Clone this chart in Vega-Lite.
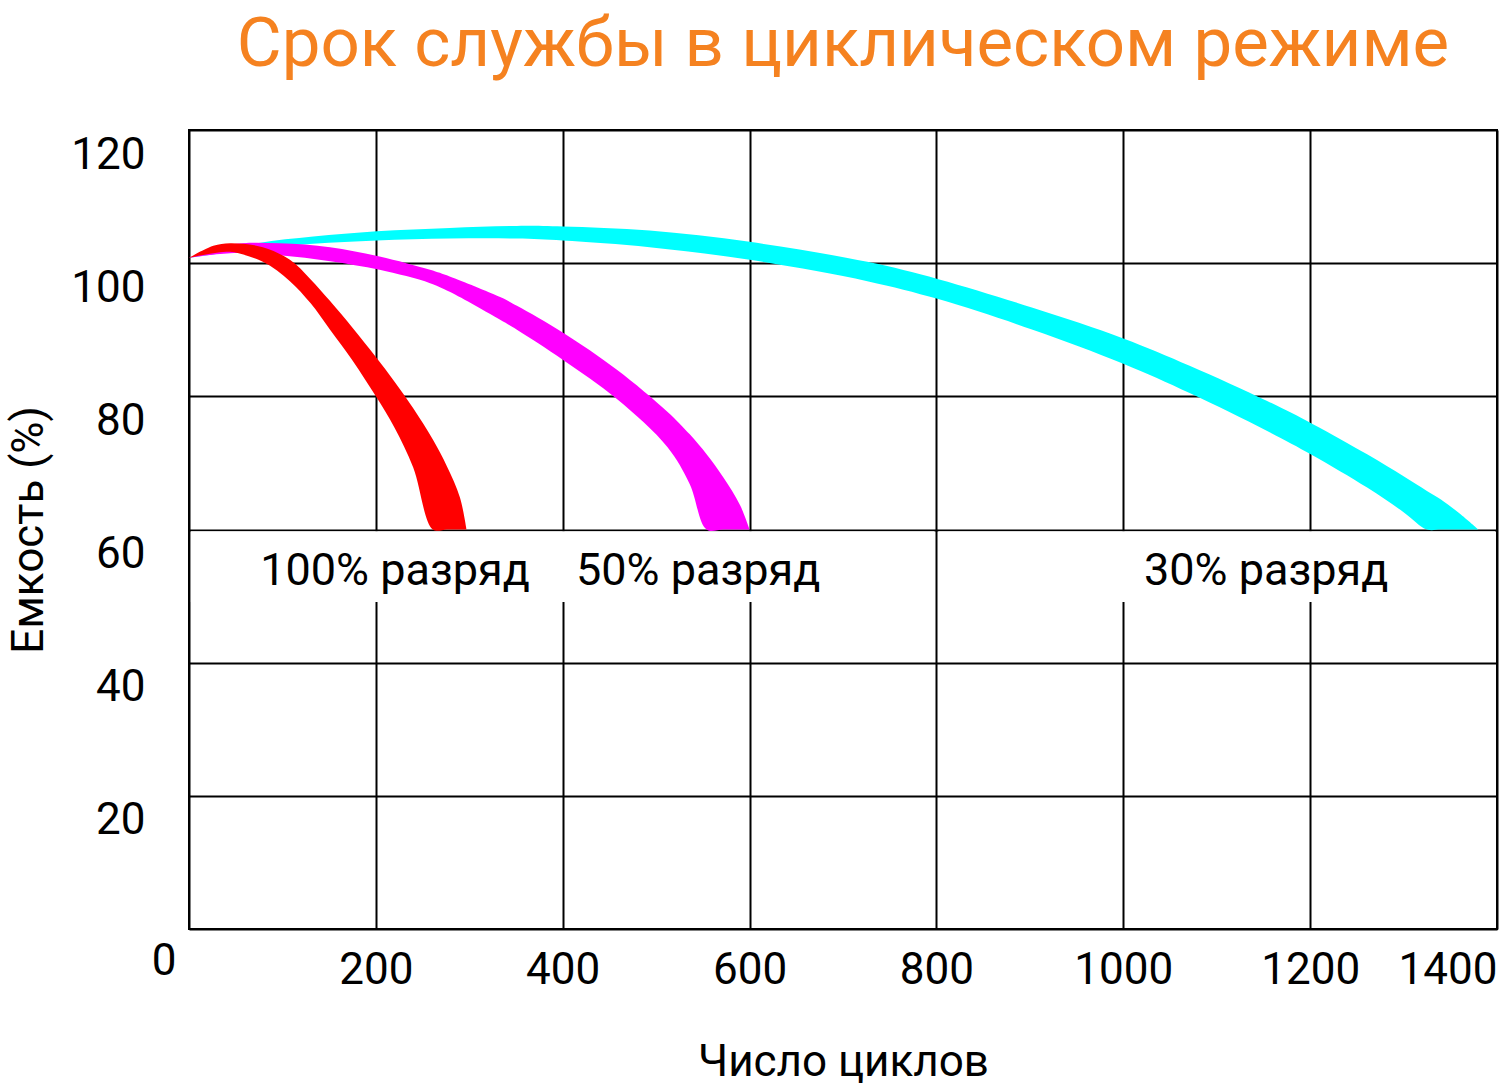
{
  "$schema": "https://vega.github.io/schema/vega-lite/v6.json",
  "description": "Cycle life vs depth of discharge.",
  "autosize": {"type": "none"},
  "width": 1308,
  "height": 799,
  "padding": {"left": 189, "top": 130, "right": 3, "bottom": 163},
  "background": "white",
  "title": {
    "text": "Срок службы в циклическом режиме",
    "font": "Roboto",
    "fontSize": 69,
    "fontWeight": "normal",
    "color": "#F58220",
    "anchor": "middle",
    "offset": 50
  },
  "datasets": {
    "red": [
      {"x": 0, "lo": 100.8, "hi": 100.8},
      {"x": 26, "lo": 101.5, "hi": 102.6},
      {"x": 44, "lo": 101.7, "hi": 103.0},
      {"x": 79, "lo": 100.2, "hi": 102.4},
      {"x": 108, "lo": 97.3, "hi": 100.5},
      {"x": 130, "lo": 94.0, "hi": 97.6},
      {"x": 151, "lo": 90.0, "hi": 94.3},
      {"x": 175, "lo": 85.4, "hi": 90.3},
      {"x": 200, "lo": 80.0, "hi": 85.9},
      {"x": 220, "lo": 75.3, "hi": 82.2},
      {"x": 240, "lo": 69.3, "hi": 78.2},
      {"x": 261, "lo": 60, "hi": 73.5},
      {"x": 276, "lo": 60, "hi": 69.5},
      {"x": 290, "lo": 60, "hi": 64.8},
      {"x": 297, "lo": 60, "hi": 60}
    ],
    "magenta": [
      {"x": 0, "lo": 100.8, "hi": 100.8},
      {"x": 44, "lo": 101.5, "hi": 102.8},
      {"x": 97, "lo": 101.2, "hi": 103.0},
      {"x": 151, "lo": 100.3, "hi": 102.4},
      {"x": 204, "lo": 99.0, "hi": 101.0},
      {"x": 258, "lo": 97.0, "hi": 99.0},
      {"x": 279, "lo": 95.7, "hi": 98.0},
      {"x": 333, "lo": 91.5, "hi": 94.9},
      {"x": 351, "lo": 90.0, "hi": 93.6},
      {"x": 400, "lo": 85.5, "hi": 89.6},
      {"x": 458, "lo": 79.6, "hi": 84.0},
      {"x": 512, "lo": 72.4, "hi": 77.7},
      {"x": 536, "lo": 66.8, "hi": 74.3},
      {"x": 554, "lo": 60, "hi": 71.3},
      {"x": 572, "lo": 60, "hi": 67.8},
      {"x": 590, "lo": 60, "hi": 63.6},
      {"x": 600, "lo": 60, "hi": 60}
    ],
    "cyan": [
      {"x": 0, "lo": 100.8, "hi": 100.8},
      {"x": 73, "lo": 102.2, "hi": 103.0},
      {"x": 133, "lo": 102.9, "hi": 104.0},
      {"x": 201, "lo": 103.4, "hi": 104.8},
      {"x": 279, "lo": 103.7, "hi": 105.3},
      {"x": 351, "lo": 103.7, "hi": 105.6},
      {"x": 400, "lo": 103.4, "hi": 105.5},
      {"x": 493, "lo": 102.4, "hi": 104.9},
      {"x": 600, "lo": 100.5, "hi": 103.2},
      {"x": 726, "lo": 97.3, "hi": 100.2},
      {"x": 802, "lo": 94.6, "hi": 97.6},
      {"x": 903, "lo": 90.0, "hi": 93.3},
      {"x": 1000, "lo": 84.9, "hi": 88.7},
      {"x": 1071, "lo": 80.5, "hi": 84.6},
      {"x": 1154, "lo": 74.8, "hi": 79.3},
      {"x": 1202, "lo": 71.2, "hi": 75.9},
      {"x": 1261, "lo": 66.3, "hi": 71.3},
      {"x": 1300, "lo": 62.6, "hi": 68.0},
      {"x": 1325, "lo": 60, "hi": 65.8},
      {"x": 1340, "lo": 60, "hi": 64.5},
      {"x": 1360, "lo": 60, "hi": 62.4},
      {"x": 1380, "lo": 60, "hi": 60}
    ],
    "boxes": [
      {"x": 2, "x2": 798, "y": 59.75, "y2": 49.1},
      {"x": 802, "x2": 1398, "y": 59.75, "y2": 49.1}
    ],
    "labels": [
      {"x": 220.5, "y": 51.7, "label": "100% разряд"},
      {"x": 545, "y": 51.7, "label": "50% разряд"},
      {"x": 1153, "y": 51.7, "label": "30% разряд"}
    ],
    "origin": [
      {"x": 0, "y": 0, "label": "0"}
    ]
  },
  "encoding": {
    "x": {
      "field": "x",
      "type": "quantitative",
      "scale": {"domain": [0, 1400], "nice": false, "zero": false},
      "axis": {
        "title": "Число циклов",
        "values": [200, 400, 600, 800, 1000, 1200, 1400],
        "format": "d",
        "labelFlush": true,
        "labelPadding": 19,
        "titlePadding": 48
      }
    },
    "y": {
      "field": "lo",
      "type": "quantitative",
      "scale": {"domain": [0, 120], "nice": false},
      "axis": {
        "title": "Емкость (%)",
        "values": [20, 40, 60, 80, 100, 120],
        "format": "d",
        "labelPadding": 44,
        "labelOffset": 25,
        "titlePadding": 19
      }
    }
  },
  "layer": [
    {
      "data": {"name": "cyan"},
      "mark": {"type": "area", "interpolate": "catmull-rom", "color": "#00FFFF"},
      "encoding": {"y2": {"field": "hi"}}
    },
    {
      "data": {"name": "magenta"},
      "mark": {"type": "area", "interpolate": "catmull-rom", "color": "#FF00FF"},
      "encoding": {"y2": {"field": "hi"}}
    },
    {
      "data": {"name": "red"},
      "mark": {"type": "area", "interpolate": "catmull-rom", "color": "#FF0000"},
      "encoding": {"y2": {"field": "hi"}}
    },
    {
      "data": {"name": "boxes"},
      "mark": {"type": "rect", "color": "white"},
      "encoding": {
        "x": {"field": "x", "type": "quantitative"},
        "x2": {"field": "x2"},
        "y": {"field": "y", "type": "quantitative"},
        "y2": {"field": "y2"}
      }
    },
    {
      "data": {"name": "labels"},
      "mark": {"type": "text", "font": "Roboto", "fontSize": 45, "baseline": "alphabetic", "align": "center", "color": "black"},
      "encoding": {
        "x": {"field": "x", "type": "quantitative"},
        "y": {"field": "y", "type": "quantitative"},
        "text": {"field": "label"}
      }
    },
    {
      "data": {"name": "origin"},
      "mark": {"type": "text", "font": "Roboto", "fontSize": 44, "baseline": "alphabetic", "align": "center", "dx": -25, "dy": 46, "color": "black"},
      "encoding": {
        "x": {"field": "x", "type": "quantitative"},
        "y": {"field": "y", "type": "quantitative"},
        "text": {"field": "label"}
      }
    }
  ],
  "config": {
    "font": "Roboto",
    "view": {"stroke": "black", "strokeWidth": 2},
    "axis": {
      "grid": true,
      "gridColor": "black",
      "gridOpacity": 1,
      "gridWidth": 2,
      "domain": true,
      "domainColor": "black",
      "domainWidth": 2,
      "ticks": false,
      "labelFont": "Roboto",
      "labelFontSize": 44,
      "labelColor": "black",
      "titleFont": "Roboto",
      "titleFontSize": 44,
      "titleFontWeight": "normal",
      "titleColor": "black"
    }
  }
}
